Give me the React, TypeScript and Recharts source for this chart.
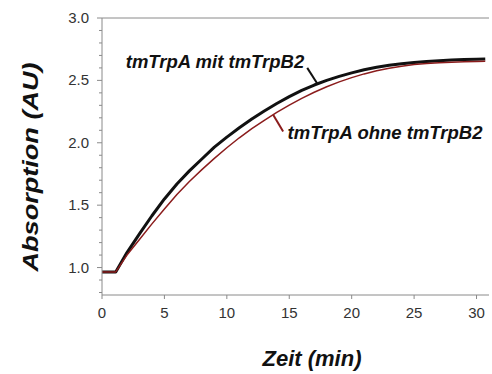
import React from 'react';
import { LineChart, Line, XAxis, YAxis, ReferenceLine } from 'recharts';

// Zeit (min)
const zeit = [0, 1.1, 2, 3, 4, 5, 6, 7, 8, 9, 10, 11, 12, 13, 14, 15, 16, 17, 18, 19, 20, 21, 22, 23, 24, 25, 26, 27, 28, 29, 30, 30.7];
// Absorption, tmTrpA mit tmTrpB2
const mitB2 = [0.965, 0.965, 1.12, 1.27, 1.415, 1.55, 1.67, 1.775, 1.87, 1.965, 2.045, 2.12, 2.19, 2.255, 2.315, 2.37, 2.42, 2.463, 2.5, 2.532, 2.56, 2.585, 2.605, 2.621, 2.634, 2.644, 2.652, 2.658, 2.663, 2.667, 2.67, 2.672];
// Absorption, tmTrpA ohne tmTrpB2
const ohneB2 = [0.965, 0.965, 1.1, 1.225, 1.35, 1.47, 1.585, 1.69, 1.785, 1.875, 1.96, 2.04, 2.113, 2.18, 2.243, 2.302, 2.356, 2.405, 2.449, 2.488, 2.522, 2.552, 2.577, 2.597, 2.614, 2.627, 2.636, 2.642, 2.646, 2.649, 2.652, 2.653];

const xTicks = [0, 5, 10, 15, 20, 25, 30];
const yTicks = [0.8, 0.9, 1.0, 1.1, 1.2, 1.3, 1.4, 1.5, 1.6, 1.7, 1.8, 1.9, 2.0, 2.1, 2.2, 2.3, 2.4, 2.5, 2.6, 2.7, 2.8, 2.9, 3.0];

const data = zeit.map((t, i) => ({ t, mit: mitB2[i], ohne: ohneB2[i] }));

const W = 492;
const H = 374;
const PLOT_LEFT = 102;
const AXIS = '#8a8a8a';
const TEXT = '#333';
const FONT = 'Arial, "Liberation Sans", sans-serif';

function YTick(props: any) {
  const { y, payload } = props;
  const v = Math.round(payload.value * 10) / 10;
  const major = Math.abs(v * 2 - Math.round(v * 2)) < 1e-6;
  return (
    <g>
      <line x1={PLOT_LEFT} x2={PLOT_LEFT - (major ? 5 : 3)} y1={y} y2={y} stroke={AXIS} />
      {major && v >= 1 && (
        <text x={PLOT_LEFT - 13} y={y} dy={5} textAnchor="end" fontSize={15} fill={TEXT} fontFamily={FONT}>
          {v.toFixed(1)}
        </text>
      )}
    </g>
  );
}

export default function App() {
  return (
    <div style={{ position: 'absolute', left: 0, top: 0, width: W, height: H, background: '#fff' }}>
      <LineChart
        width={W}
        height={H}
        data={data}
        margin={{ top: 18, right: 3, left: 42, bottom: 49 }}
      >
        <XAxis
          dataKey="t"
          type="number"
          domain={[0, 31]}
          ticks={xTicks}
          allowDataOverflow
          height={30}
          stroke={AXIS}
          tickSize={4}
          tickMargin={8}
          tick={{ fontSize: 15, fill: TEXT, fontFamily: FONT }}
        />
        <YAxis
          type="number"
          domain={[0.78, 3.0]}
          ticks={yTicks}
          allowDataOverflow
          width={60}
          stroke={AXIS}
          tickLine={false}
          tick={<YTick />}
          interval={0}
        />
        <ReferenceLine y={3.0} stroke={AXIS} />
        <ReferenceLine
          segment={[{ x: 16.44, y: 2.6 }, { x: 17.24, y: 2.475 }]}
          stroke="#111"
          strokeWidth={2}
        />
        <ReferenceLine
          segment={[{ x: 13.71, y: 2.225 }, { x: 14.51, y: 2.09 }]}
          stroke="#8b1c1c"
          strokeWidth={2}
        />
        <Line
          type="linear"
          dataKey="mit"
          stroke="#111"
          strokeWidth={3}
          strokeLinejoin="round"
          dot={false}
          isAnimationActive={false}
        />
        <Line
          type="linear"
          dataKey="ohne"
          stroke="#8b1c1c"
          strokeWidth={1.5}
          strokeLinejoin="round"
          dot={false}
          isAnimationActive={false}
        />
      </LineChart>
      <svg width={W} height={H} style={{ position: 'absolute', left: 0, top: 0, pointerEvents: 'none' }}>
        <text x={215} y={68} textAnchor="middle" fontSize={18.5} fontWeight="bold" fontStyle="italic" fill="#111" fontFamily={FONT}>
          tmTrpA mit tmTrpB2
        </text>
        <text x={385} y={139} textAnchor="middle" fontSize={18.5} fontWeight="bold" fontStyle="italic" fill="#111" fontFamily={FONT}>
          tmTrpA ohne tmTrpB2
        </text>
        <text
          x={0}
          y={0}
          transform="translate(38,167) rotate(-90)"
          textAnchor="middle"
          fontSize={22}
          textLength={209}
          lengthAdjust="spacingAndGlyphs"
          fontWeight="bold"
          fontStyle="italic"
          fill="#111"
          fontFamily={FONT}
        >
          Absorption (AU)
        </text>
        <text x={312} y={366} textAnchor="middle" fontSize={22} fontWeight="bold" fontStyle="italic" fill="#111" fontFamily={FONT}>
          Zeit (min)
        </text>
      </svg>
    </div>
  );
}
